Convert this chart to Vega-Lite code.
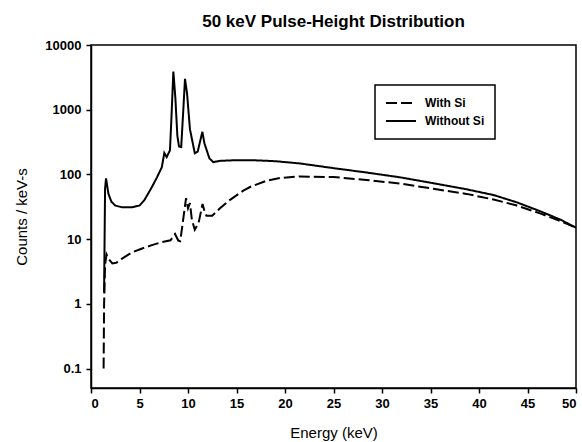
{
  "$schema": "https://vega.github.io/schema/vega-lite/v6.json",
  "width": 485,
  "height": 343,
  "autosize": "none",
  "padding": {"left": 91, "top": 45, "right": 6, "bottom": 54},
  "background": "white",
  "config": {
    "font": "Liberation Sans",
    "view": {"stroke": "black", "strokeWidth": 1.5},
    "axis": {
      "grid": false,
      "domainColor": "black",
      "domainWidth": 1.5,
      "tickColor": "black",
      "tickWidth": 1.5,
      "tickSize": 5,
      "labelColor": "black",
      "labelFont": "Liberation Sans",
      "labelFontWeight": "bold",
      "labelFontSize": 13,
      "titleColor": "black",
      "titleFont": "Liberation Sans",
      "titleFontWeight": "normal",
      "titleFontSize": 15
    }
  },
  "title": {
    "text": "50 keV Pulse-Height Distribution",
    "fontSize": 17,
    "fontWeight": "bold",
    "font": "Liberation Sans",
    "color": "black",
    "offset": 8,
    "anchor": "middle"
  },
  "data": {
    "values": [
      {"E": 1.35, "V": 1.5, "S": "Without Si"},
      {"E": 1.45, "V": 60, "S": "Without Si"},
      {"E": 1.55, "V": 87, "S": "Without Si"},
      {"E": 1.8, "V": 50, "S": "Without Si"},
      {"E": 2.1, "V": 38, "S": "Without Si"},
      {"E": 2.5, "V": 33, "S": "Without Si"},
      {"E": 3.2, "V": 31, "S": "Without Si"},
      {"E": 4.2, "V": 31, "S": "Without Si"},
      {"E": 5.0, "V": 33, "S": "Without Si"},
      {"E": 5.5, "V": 40, "S": "Without Si"},
      {"E": 6.26, "V": 63, "S": "Without Si"},
      {"E": 6.8, "V": 90, "S": "Without Si"},
      {"E": 7.3, "V": 129, "S": "Without Si"},
      {"E": 7.56, "V": 215, "S": "Without Si"},
      {"E": 7.8, "V": 185, "S": "Without Si"},
      {"E": 8.14, "V": 236, "S": "Without Si"},
      {"E": 8.3, "V": 800, "S": "Without Si"},
      {"E": 8.49, "V": 3900, "S": "Without Si"},
      {"E": 8.7, "V": 1500, "S": "Without Si"},
      {"E": 8.9, "V": 400, "S": "Without Si"},
      {"E": 9.07, "V": 270, "S": "Without Si"},
      {"E": 9.3, "V": 265, "S": "Without Si"},
      {"E": 9.5, "V": 900, "S": "Without Si"},
      {"E": 9.69, "V": 3000, "S": "Without Si"},
      {"E": 9.9, "V": 1800, "S": "Without Si"},
      {"E": 10.2, "V": 500, "S": "Without Si"},
      {"E": 10.7, "V": 213, "S": "Without Si"},
      {"E": 11.0, "V": 225, "S": "Without Si"},
      {"E": 11.3, "V": 350, "S": "Without Si"},
      {"E": 11.48, "V": 455, "S": "Without Si"},
      {"E": 11.7, "V": 300, "S": "Without Si"},
      {"E": 12.2, "V": 178, "S": "Without Si"},
      {"E": 12.6, "V": 155, "S": "Without Si"},
      {"E": 13.3, "V": 162, "S": "Without Si"},
      {"E": 15, "V": 166, "S": "Without Si"},
      {"E": 17, "V": 165, "S": "Without Si"},
      {"E": 19, "V": 160, "S": "Without Si"},
      {"E": 21.5, "V": 148, "S": "Without Si"},
      {"E": 25, "V": 125, "S": "Without Si"},
      {"E": 28.4, "V": 107, "S": "Without Si"},
      {"E": 31.9, "V": 90, "S": "Without Si"},
      {"E": 35.3, "V": 73, "S": "Without Si"},
      {"E": 38.7, "V": 59, "S": "Without Si"},
      {"E": 41.5, "V": 48, "S": "Without Si"},
      {"E": 43.9, "V": 37, "S": "Without Si"},
      {"E": 46.3, "V": 27, "S": "Without Si"},
      {"E": 48.4, "V": 20, "S": "Without Si"},
      {"E": 50, "V": 15, "S": "Without Si"},
      {"E": 1.3, "V": 0.1, "S": "With Si"},
      {"E": 1.35, "V": 1, "S": "With Si"},
      {"E": 1.45, "V": 4, "S": "With Si"},
      {"E": 1.6, "V": 5.8, "S": "With Si"},
      {"E": 1.8, "V": 5.0, "S": "With Si"},
      {"E": 2.2, "V": 4.2, "S": "With Si"},
      {"E": 2.6, "V": 4.3, "S": "With Si"},
      {"E": 3.2, "V": 5.0, "S": "With Si"},
      {"E": 4.2, "V": 6.2, "S": "With Si"},
      {"E": 5.2, "V": 7.1, "S": "With Si"},
      {"E": 6.2, "V": 8.0, "S": "With Si"},
      {"E": 7.3, "V": 9.0, "S": "With Si"},
      {"E": 8.2, "V": 9.6, "S": "With Si"},
      {"E": 8.66, "V": 12, "S": "With Si"},
      {"E": 9.0, "V": 9.5, "S": "With Si"},
      {"E": 9.2, "V": 9.3, "S": "With Si"},
      {"E": 9.5, "V": 20, "S": "With Si"},
      {"E": 9.8, "V": 43, "S": "With Si"},
      {"E": 10.0, "V": 30, "S": "With Si"},
      {"E": 10.2, "V": 36, "S": "With Si"},
      {"E": 10.4, "V": 20, "S": "With Si"},
      {"E": 10.7, "V": 14, "S": "With Si"},
      {"E": 11.1, "V": 18, "S": "With Si"},
      {"E": 11.5, "V": 35, "S": "With Si"},
      {"E": 11.7, "V": 27, "S": "With Si"},
      {"E": 11.9, "V": 23, "S": "With Si"},
      {"E": 12.5, "V": 23, "S": "With Si"},
      {"E": 13.3, "V": 30, "S": "With Si"},
      {"E": 14.3, "V": 40, "S": "With Si"},
      {"E": 15.7, "V": 56, "S": "With Si"},
      {"E": 16.5, "V": 65, "S": "With Si"},
      {"E": 18.1, "V": 80, "S": "With Si"},
      {"E": 19.5, "V": 88, "S": "With Si"},
      {"E": 21.5, "V": 93, "S": "With Si"},
      {"E": 25, "V": 91, "S": "With Si"},
      {"E": 28.4, "V": 82, "S": "With Si"},
      {"E": 31.9, "V": 72, "S": "With Si"},
      {"E": 35.3, "V": 60, "S": "With Si"},
      {"E": 38.7, "V": 50, "S": "With Si"},
      {"E": 41.5, "V": 41, "S": "With Si"},
      {"E": 43.9, "V": 33, "S": "With Si"},
      {"E": 46.3, "V": 25, "S": "With Si"},
      {"E": 48.4, "V": 19, "S": "With Si"},
      {"E": 50, "V": 15, "S": "With Si"}
    ]
  },
  "mark": {"type": "line", "color": "black", "strokeWidth": 2, "clip": true},
  "encoding": {
    "x": {
      "field": "E",
      "type": "quantitative",
      "scale": {"domain": [0, 50], "nice": false, "zero": false},
      "axis": {"values": [0, 5, 10, 15, 20, 25, 30, 35, 40, 45, 50], "title": "Energy (keV)", "titlePadding": 15, "labelPadding": 4}
    },
    "y": {
      "field": "V",
      "type": "quantitative",
      "scale": {"type": "log", "domain": [0.05, 10000], "nice": false},
      "axis": {"values": [0.1, 1, 10, 100, 1000, 10000], "format": "~r", "title": "Counts / keV-s", "titlePadding": 15, "labelPadding": 5}
    },
    "strokeDash": {
      "field": "S",
      "type": "nominal",
      "scale": {"domain": ["With Si", "Without Si"], "range": [[11, 4], [1, 0]]},
      "legend": {
        "title": null,
        "orient": "none",
        "legendX": 284,
        "legendY": 40,
        "strokeColor": "black",
        "padding": 10,
        "symbolType": "stroke",
        "symbolSize": 900,
        "symbolStrokeWidth": 2,
        "symbolStrokeColor": "black",
        "labelFontWeight": "bold",
        "labelFontSize": 12,
        "labelColor": "black",
        "clipHeight": 16,
        "rowPadding": 2,
        "labelOffset": 8,
        "symbolOffset": 0,
        "encode": {"legend": {"update": {"strokeWidth": {"value": 1.5}}}}
      }
    },
    "order": {"field": "E", "type": "quantitative"}
  }
}
